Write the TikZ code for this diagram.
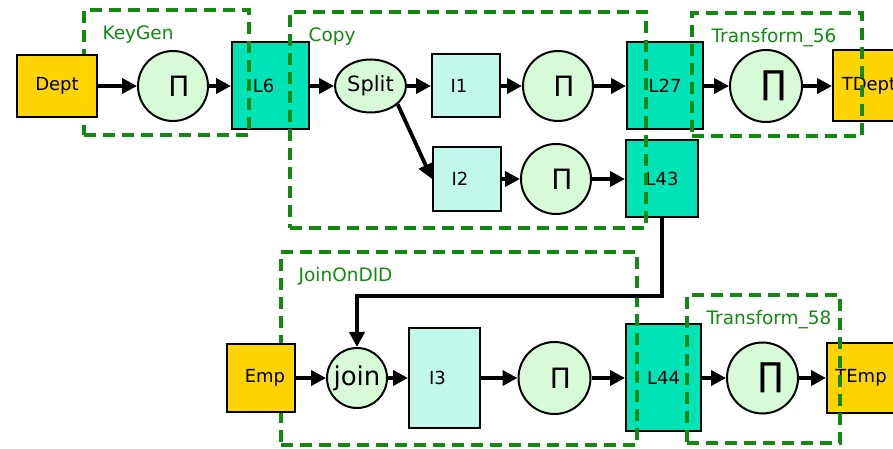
\documentclass[tikz,border=0pt]{standalone}
\usepackage{fontspec}
\setmainfont{DejaVu Sans}
\usetikzlibrary{arrows.meta, positioning, shapes.geometric}
\definecolor{srcyellow}{RGB}{255,212,0}
\definecolor{tealbox}{RGB}{0,227,183}
\definecolor{tmpbox}{RGB}{194,247,236}
\definecolor{opgreen}{RGB}{214,251,214}
\definecolor{grpgreen}{RGB}{18,138,18}
\newcommand{\projsym}{\hspace*{12pt}{\fontsize{28}{28}\selectfont Π}}
\newcommand{\prodsym}{\hspace*{16pt}{\fontsize{33}{33}\selectfont ∏}}
\tikzset{
  src/.style={
    rectangle,
    draw,
    line width=2pt,
    fill=srcyellow,
    inner sep=0pt,
    font=\fontsize{18}{21}\selectfont
  },
  lbox/.style={
    rectangle,
    draw,
    line width=2pt,
    fill=tealbox,
    inner sep=0pt,
    font=\fontsize{18}{21}\selectfont
  },
  ibox/.style={
    rectangle,
    draw,
    line width=2pt,
    fill=tmpbox,
    inner sep=0pt,
    font=\fontsize{18}{21}\selectfont
  },
  op/.style={
    circle,
    draw,
    line width=2pt,
    fill=opgreen,
    inner sep=0pt,
    minimum size=70pt
  },
  group/.style={
    rectangle,
    draw=grpgreen,
    line width=3.2pt,
    dash pattern=on 12pt off 7pt,
    inner sep=0pt
  },
  grouplabel/.style={text=grpgreen, inner sep=0pt, font=\fontsize{18.5}{21}\selectfont},
  arrow/.style={-{Triangle[length=15pt,width=15pt]}, line width=3.8pt}
}

\begin{document}
\begin{tikzpicture}[x=1pt,y=1pt]
\useasboundingbox (0,0) rectangle (893,449);
\clip (0,0) rectangle (893,449);
\node[op] (projkey) at (173,363) {\projsym};
\node[lbox, minimum width=77pt, minimum height=87pt] (l6) at (270.5,363) {\hspace*{-14pt}L6};
\node[op, ellipse, minimum width=71pt, minimum height=53pt, font=\fontsize{21}{24}\selectfont] (split) at (370.5,363) {Split};
\node[ibox, minimum width=68pt, minimum height=63pt] (i1) at (466,363) {\hspace*{-14pt}I1};
\node[op] (projcopy) at (558,363) {\projsym};
\node[lbox, minimum width=76pt, minimum height=87pt] (l27) at (665,363) {L27};
\node[op, minimum size=72pt] (prod56) at (766,363) {\prodsym};
\node[src, minimum width=80pt, minimum height=71pt] (tdept) at (873,363) {\hspace*{-8pt}TDept};
\node[ibox, minimum width=68pt, minimum height=64pt] (i2) at (467,270) {\hspace*{-14pt}I2};
\node[op] (projcopyb) at (556,270) {\projsym};
\node[lbox, minimum width=72pt, minimum height=77pt] (l43) at (662,270) {L43};
\node[op, minimum size=60pt, font=\fontsize{26}{28}\selectfont] (join) at (357,71) {join};
\node[ibox, minimum width=71pt, minimum height=100pt] (i3) at (444.5,71) {\hspace*{-14pt}I3};
\node[op, minimum size=72pt] (projjoin) at (554.5,71) {\projsym};
\node[lbox, minimum width=75pt, minimum height=107pt] (l44) at (663.5,71) {L44};
\node[op, minimum size=71pt] (prod58) at (762.5,71) {\prodsym};
\node[src, minimum width=68pt, minimum height=70pt] (temp) at (861,71) {TEmp};

\node[group, minimum width=165pt, minimum height=125pt] (keygen) at (166.5,376.5) {};
\node[group, minimum width=356pt, minimum height=216pt] (copy) at (468,329) {};
\node[group, minimum width=170pt, minimum height=123pt] (transform56) at (777,374.5) {};
\node[group, minimum width=356pt, minimum height=193pt] (joinondid) at (459,100.5) {};
\node[group, minimum width=153pt, minimum height=148pt] (transform58) at (763.5,80) {};
\node[grouplabel, below right=31pt and 20pt of keygen.north west, anchor=base west] {KeyGen};
\node[grouplabel, below right=31pt and 20pt of copy.north west, anchor=base west] {Copy};
\node[grouplabel, below right=31pt and 21pt of transform56.north west, anchor=base west] {Transform\_56};
\node[grouplabel, below right=31pt and 19pt of joinondid.north west, anchor=base west] {JoinOnDID};
\node[grouplabel, below right=31pt and 21pt of transform58.north west, anchor=base west] {Transform\_58};

\node[src, minimum width=80pt, minimum height=62pt] (dept) at (57,363) {Dept};
\node[src, minimum width=68pt, minimum height=68pt] (emp) at (261,71) {\hspace*{8pt}Emp};
\coordinate (bend) at (662,153);

\draw[arrow] (dept) -- (projkey);
\draw[arrow] (projkey) -- (l6);
\draw[arrow] (l6) -- (split);
\draw[arrow] (split) -- (i1);
\draw[arrow] (i1) -- (projcopy);
\draw[arrow] (projcopy) -- (l27);
\draw[arrow] (l27) -- (prod56);
\draw[arrow] (prod56) -- (tdept);
\draw[arrow] (split.-34) -- (i2.west);
\draw[arrow] (i2) -- (projcopyb);
\draw[arrow] (projcopyb) -- (l43);
\draw[arrow] (l43.south) -- (bend) -| (join.north);
\draw[arrow] (emp) -- (join);
\draw[arrow] (join) -- (i3);
\draw[arrow] (i3) -- (projjoin);
\draw[arrow] (projjoin) -- (l44);
\draw[arrow] (l44) -- (prod58);
\draw[arrow] (prod58) -- (temp);
\end{tikzpicture}
\end{document}
